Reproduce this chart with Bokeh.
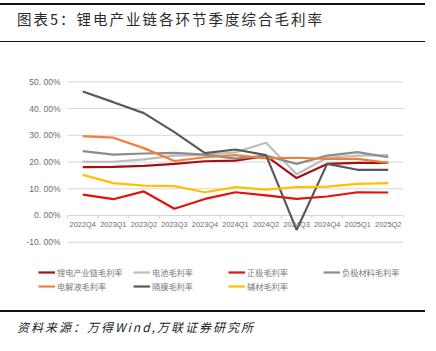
from bokeh.plotting import figure
from bokeh.models import (Range1d, FixedTicker, Legend, LegendItem, LinearAxis,
                          ColumnDataSource, Div)
from bokeh.layouts import column
from bokeh.embed import file_html
from bokeh.resources import INLINE

categories = ["2022Q4", "2023Q1", "2023Q2", "2023Q3", "2023Q4", "2024Q1",
              "2024Q2", "2024Q3", "2024Q4", "2025Q1", "2025Q2"]

lidian = [18.1, 18.2, 18.6, 19.3, 20.3, 20.5, 22.3, 14.0, 19.3, 19.7, 19.7]
dianchi = [20.1, 20.1, 21.0, 22.4, 22.7, 23.6, 27.2, 15.4, 21.6, 22.4, 22.6]
zhengji = [7.8, 6.1, 9.0, 2.5, 6.2, 8.7, 7.5, 6.2, 7.1, 8.7, 8.6]
fuji = [24.1, 22.8, 23.2, 23.4, 22.8, 21.3, 22.4, 19.3, 22.4, 23.7, 21.8]
dianjieye = [29.7, 29.1, 25.2, 20.4, 21.8, 22.6, 21.4, 21.6, 21.2, 21.2, 19.7]
gemo = [46.4, 42.4, 38.3, 31.2, 23.3, 24.7, 22.6, -5.4, 19.3, 17.1, 17.1]
fucai = [15.2, 12.1, 11.2, 11.0, 8.7, 10.6, 9.7, 10.6, 10.8, 11.8, 12.1]

series_names = ["锂电产业链毛利率", "电池毛利率", "正极毛利率", "负极材料毛利率",
                "电解液毛利率", "隔膜毛利率", "辅材毛利率"]
series_values = [lidian, dianchi, zhengji, fuji, dianjieye, gemo, fucai]
series_colors = ["#A50F15", "#BDBDBD", "#E3120B", "#8C8C8C", "#F07F3A", "#595959", "#FFC000"]

y_ticks = [-10, 0, 10, 20, 30, 40, 50]
y_tick_labels = ["-10. 00%", "0. 00%", "10. 00%", "20. 00%", "30. 00%", "40. 00%", "50. 00%"]

title_text = "图表5：锂电产业链各环节季度综合毛利率"
source_text = "资料来源：万得Wind,万联证券研究所"

CJK = "Noto Sans CJK SC"
n = len(categories)
centers = [i + 0.5 for i in range(n)]
bounds = list(range(n + 1))

title_div = Div(
    text=(f'<div style="margin-top:3px;width:425px;height:36px;border-top:2px solid #111;'
          f'border-bottom:1.5px solid #111;box-sizing:content-box;">'
          f'<div style="padding-left:17px;line-height:27px;font-family:\'{CJK}\';'
          f'font-size:14.5px;letter-spacing:2px;color:#2a2a2a;white-space:nowrap;">{title_text}</div></div>'),
    width=436, height=46, margin=0)

p = figure(width=436, height=264, output_backend="svg", toolbar_location=None,
           x_range=Range1d(-2.1935, n), y_range=Range1d(-31.8, 52),
           x_axis_location=None, y_axis_location=None,
           min_border_left=0, min_border_right=33, min_border_top=30, min_border_bottom=10)
p.outline_line_color = None
p.background_fill_color = "white"
p.border_fill_color = "white"
p.grid.visible = False

# horizontal grid lines spanning the category area
p.multi_line(xs=[[0, n] for _ in y_ticks], ys=[[t, t] for t in y_ticks],
             line_color="#d6d6d6", line_width=1)
# category separator ticks below the zero line
p.multi_line(xs=[[b, b] for b in bounds], ys=[[0, -1.1] for _ in bounds],
             line_color="#cccccc", line_width=1)

# y axis at the left edge of the category area
yaxis = LinearAxis(fixed_location=0, ticker=FixedTicker(ticks=y_ticks))
yaxis.major_label_overrides = {t: l for t, l in zip(y_ticks, y_tick_labels)}
yaxis.axis_line_color = None
yaxis.major_tick_line_color = None
yaxis.major_tick_out = 0
yaxis.major_tick_in = 0
yaxis.minor_tick_line_color = None
yaxis.major_label_standoff = 7
yaxis.major_label_text_font_size = "8.5px"
yaxis.major_label_text_color = "#6b6b6b"
yaxis.major_label_text_font = "Liberation Sans"
p.add_layout(yaxis, "left")

# x axis at zero
xaxis = LinearAxis(fixed_location=0, ticker=FixedTicker(ticks=centers))
xaxis.major_label_overrides = {c: cat for c, cat in zip(centers, categories)}
xaxis.axis_line_color = None
xaxis.major_tick_line_color = None
xaxis.major_tick_out = 0
xaxis.major_tick_in = 0
xaxis.minor_tick_line_color = None
xaxis.major_label_standoff = 5
xaxis.major_label_text_font_size = "7.4px"
xaxis.major_label_text_color = "#6b6b6b"
xaxis.major_label_text_font = "Liberation Sans"
p.add_layout(xaxis, "below")

items = []
for name, vals, col in zip(series_names, series_values, series_colors):
    src = ColumnDataSource(dict(x=centers, y=vals))
    r = p.line("x", "y", source=src, line_color=col, line_width=2.2)
    items.append(LegendItem(label=name, renderers=[r]))

legend = Legend(items=items, ncols=4, orientation="horizontal", location=(38, 7),
                padding=0, margin=0, spacing=0, border_line_color=None,
                background_fill_alpha=0, glyph_width=17, glyph_height=14,
                label_height=14, label_width=76, label_standoff=2,
                label_text_font_size="8.2px", label_text_color="#7a7a7a",
                label_text_font=CJK)
p.add_layout(legend, "center")

source_div = Div(
    text=(f'<div style="width:425px;border-top:2.5px solid #111;">'
          f'<div style="padding-left:17px;padding-top:5px;line-height:20px;font-family:\'{CJK}\';'
          f'font-size:12px;letter-spacing:2px;font-style:italic;color:#222;white-space:nowrap;">'
          f'{source_text}</div></div>'),
    width=436, height=41, margin=0)

layout = column(title_div, p, source_div, spacing=0)
open("out.html", "w").write(file_html(layout, INLINE))
